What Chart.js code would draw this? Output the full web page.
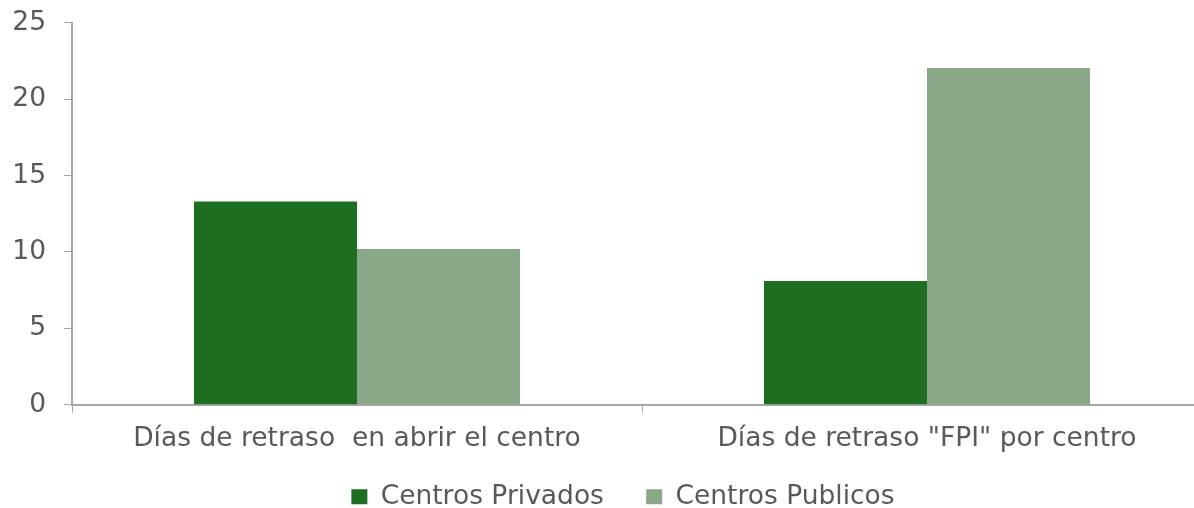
<!DOCTYPE html>
<html>
<head>
<meta charset="utf-8">
<script src="https://cdn.jsdelivr.net/npm/chart.js@4.4.1/dist/chart.umd.min.js"></script>
<style>
  html, body { margin: 0; padding: 0; background: #fff; overflow: hidden; }
  #wrap { width: 1194px; height: 508px; overflow: hidden; }
  /* canvas is a bit larger than the window: the plot runs off the right edge like the original */
  #box { width: 1212px; height: 531px; margin-top: -11px; position: relative; }
</style>
</head>
<body>
<div id="wrap"><div id="box"><canvas id="chart"></canvas></div></div>
<script>
const categories = ['Días de retraso  en abrir el centro', 'Días de retraso "FPI" por centro'];
const seriesNames = ['Centros Privados', 'Centros Publicos'];
const privados = [13.3, 8.1];
const publicos = [10.2, 22.05];
const yTicks = [0, 5, 10, 15, 20, 25];

const textColor = '#595959';
const axisColor = '#a6a6a6';
const fontFamily = '"DejaVu Sans", Verdana, sans-serif';
const fontSize = 26.5;

// nudge the legend a little to the right
const shiftLegend = {
    id: 'shiftLegend',
    afterLayout(chart) {
        if (chart.legend) chart.legend.left += 34;
    }
};

const ctx = document.getElementById('chart').getContext('2d');
new Chart(ctx, {
    type: 'bar',
    data: {
        labels: categories,
        datasets: [{
            label: seriesNames[0],
            data: privados,
            backgroundColor: '#1e6e21',
            borderWidth: 0
        }, {
            label: seriesNames[1],
            data: publicos,
            backgroundColor: '#89a888',
            borderWidth: 0
        }]
    },
    options: {
        responsive: true,
        maintainAspectRatio: false,
        animation: false,
        layout: { padding: { top: 0, left: 0, right: 0, bottom: 0 } },
        datasets: {
            bar: { barPercentage: 1, categoryPercentage: 0.572 }
        },
        scales: {
            x: {
                grid: { drawOnChartArea: false, color: axisColor, tickLength: 8, offset: true },
                border: { color: axisColor, width: 2 },
                ticks: { color: textColor, font: { family: fontFamily, size: fontSize }, padding: 11, maxRotation: 0 }
            },
            y: {
                min: 0,
                max: 25,
                afterBuildTicks: axis => { axis.ticks = yTicks.map(v => ({ value: v })); },
                afterFit: axis => { axis.width = 72; },
                grid: { drawOnChartArea: false, color: axisColor, tickLength: 8 },
                border: { color: axisColor, width: 2 },
                ticks: { color: textColor, font: { family: fontFamily, size: fontSize }, padding: 18 }
            }
        },
        plugins: {
            legend: {
                position: 'bottom',
                labels: {
                    color: textColor,
                    font: { family: fontFamily, size: fontSize },
                    boxWidth: 16,
                    boxHeight: 15,
                    padding: 17,
                    // widen the gap after the first entry without adding vertical space
                    generateLabels: chart => {
                        const items = Chart.defaults.plugins.legend.labels.generateLabels(chart);
                        items[0].text = items[0].text + '   ';
                        return items;
                    }
                }
            },
            tooltip: { enabled: false }
        }
    },
    plugins: [shiftLegend]
});
</script>
</body>
</html>
